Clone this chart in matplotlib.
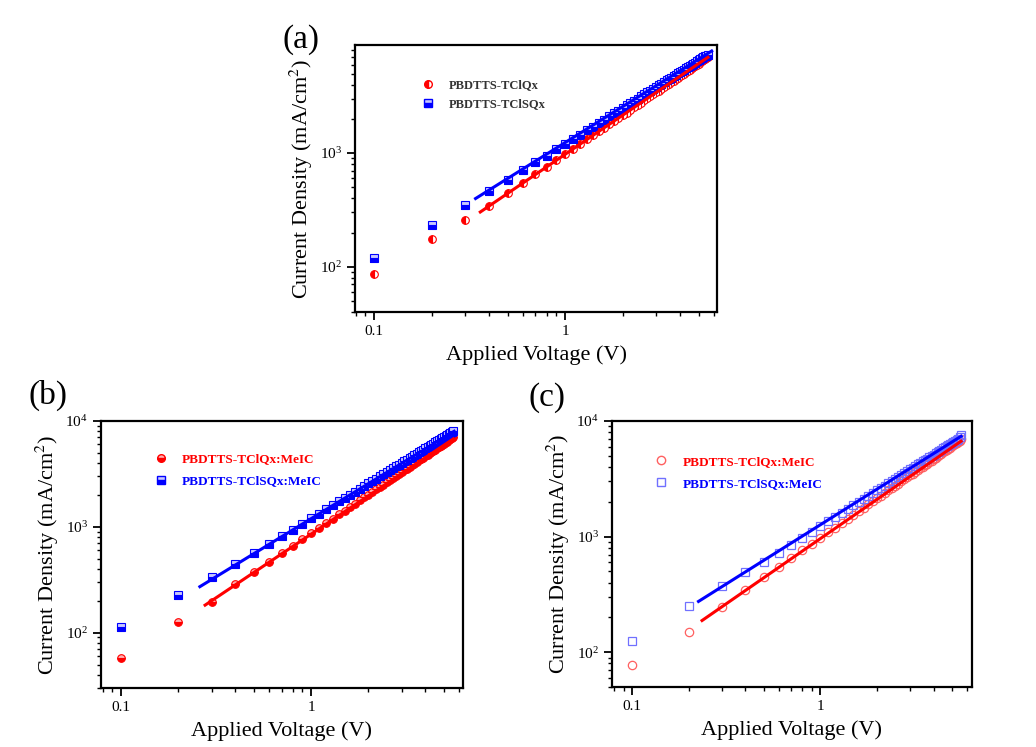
import numpy as np
import matplotlib
matplotlib.use('Agg')
import matplotlib.pyplot as plt
from matplotlib.lines import Line2D
from matplotlib.ticker import NullFormatter, LogLocator

plt.rcParams['font.family'] = ['Liberation Serif', 'DejaVu Serif']
plt.rcParams['mathtext.fontset'] = 'stix'

# applied voltage (V), same grid for every curve
volt = [0.1, 0.2, 0.3, 0.4, 0.5, 0.6, 0.7, 0.8, 0.9, 1.0,
        1.1, 1.2, 1.3, 1.4, 1.5, 1.6, 1.7, 1.8, 1.9, 2.0,
        2.1, 2.2, 2.3, 2.4, 2.5, 2.6, 2.7, 2.8, 2.9, 3.0,
        3.1, 3.2, 3.3, 3.4, 3.5, 3.6, 3.7, 3.8, 3.9, 4.0,
        4.1, 4.2, 4.3, 4.4, 4.5, 4.6, 4.7, 4.8, 4.9, 5.0,
        5.1, 5.2, 5.3, 5.4, 5.5, 5.6]

# (a) neat films, mA/cm2
a_red = [87, 175, 258, 343, 443, 545, 649, 755, 865, 975,
         1086, 1199, 1315, 1429, 1549, 1667, 1782, 1905, 2028, 2148,
         2270, 2393, 2523, 2642, 2773, 2897, 3020, 3155, 3281, 3412,
         3540, 3673, 3811, 3926, 4064, 4198, 4335, 4467, 4603, 4732,
         4875, 5000, 5140, 5272, 5408, 5559, 5689, 5821, 5970, 6109,
         6252, 6383, 6516, 6653, 6808, 6950]
a_blue = [119, 232, 350, 462, 581, 703, 826, 951, 1076, 1202,
          1327, 1455, 1585, 1710, 1841, 1968, 2099, 2228, 2360, 2489,
          2618, 2748, 2884, 3013, 3148, 3281, 3412, 3540, 3673, 3811,
          3945, 4074, 4217, 4345, 4477, 4613, 4742, 4887, 5023, 5152,
          5297, 5420, 5559, 5689, 5834, 5970, 6109, 6237, 6383, 6516,
          6653, 6792, 6918, 7063, 7194, 7328]
a_fit_x = {'red': [0.36, 5.6], 'blue': [0.34, 5.86]}
a_fit_y = {'red': [303, 6950], 'blue': [398, 7890]}

# (b) blends with MeIC
b_red = [57, 125, 193, 287, 377, 469, 565, 665, 766, 871,
         977, 1086, 1197, 1309, 1422, 1538, 1652, 1774, 1897, 2014,
         2138, 2259, 2388, 2512, 2642, 2767, 2897, 3027, 3155, 3289,
         3420, 3556, 3698, 3828, 3963, 4102, 4236, 4385, 4519, 4656,
         4808, 4943, 5082, 5224, 5370, 5521, 5662, 5808, 5957, 6109,
         6266, 6397, 6546, 6699, 6839, 6998]
b_blue = [112, 227, 334, 450, 561, 685, 811, 940, 1069, 1202,
          1334, 1469, 1603, 1742, 1879, 2014, 2153, 2296, 2438, 2576,
          2716, 2858, 3006, 3148, 3296, 3443, 3581, 3733, 3873, 4027,
          4169, 4325, 4477, 4613, 4764, 4920, 5070, 5224, 5370, 5521,
          5675, 5821, 5970, 6124, 6281, 6442, 6592, 6745, 6902, 7063,
          7228, 7379, 7516, 7674, 7834, 7998]
b_fit_x = {'red': [0.277, 5.61], 'blue': [0.26, 5.66]}
b_fit_y = {'red': [182, 6780], 'blue': [272, 8000]}

# (c) blends with MeIC, second set
c_red = [78, 151, 246, 347, 447, 548, 653, 759, 867, 977,
         1086, 1199, 1315, 1429, 1545, 1663, 1778, 1897, 2018, 2138,
         2259, 2377, 2506, 2624, 2754, 2877, 2999, 3126, 3251, 3381,
         3508, 3639, 3767, 3890, 4027, 4150, 4285, 4416, 4550, 4677,
         4819, 4943, 5070, 5212, 5346, 5483, 5610, 5754, 5888, 6026,
         6166, 6295, 6427, 6561, 6699, 6950]
c_blue = [124, 249, 371, 490, 603, 726, 851, 977, 1104, 1230,
          1355, 1483, 1611, 1738, 1866, 1995, 2123, 2254, 2382, 2512,
          2642, 2767, 2904, 3027, 3162, 3289, 3420, 3548, 3681, 3811,
          3945, 4074, 4217, 4335, 4467, 4603, 4732, 4864, 5000, 5129,
          5260, 5395, 5521, 5649, 5794, 5929, 6053, 6180, 6324, 6457,
          6592, 6714, 6855, 6982, 7300, 7500]
c_fit_x = {'red': [0.235, 5.6], 'blue': [0.225, 5.6]}
c_fit_y = {'red': [188, 6690], 'blue': [275, 7380]}

fig = plt.figure(figsize=(10.36, 7.47), dpi=100)
fig.patch.set_facecolor('white')

axA = fig.add_axes([0.3427, 0.5823, 0.3494, 0.3574])
axB = fig.add_axes([0.0975, 0.0790, 0.3494, 0.3574])
axC = fig.add_axes([0.5907, 0.0803, 0.3475, 0.3561])


def style_axis(ax, xlim, ylim):
    ax.set_xscale('log')
    ax.set_yscale('log')
    ax.set_xlim(*xlim)
    ax.set_ylim(*ylim)
    ax.set_xticks([0.1, 1])
    ax.set_xticklabels(['0.1', '1'])
    ax.xaxis.set_minor_locator(LogLocator(base=10, subs=np.arange(2, 10)))
    ax.xaxis.set_minor_formatter(NullFormatter())
    ax.yaxis.set_minor_locator(LogLocator(base=10, subs=np.arange(2, 10)))
    ax.yaxis.set_minor_formatter(NullFormatter())
    ax.tick_params(which='major', direction='out', length=6, width=1.3, labelsize=11,
                   top=False, right=False)
    ax.tick_params(which='minor', direction='out', length=3, width=1.0,
                   top=False, right=False)
    for s in ax.spines.values():
        s.set_linewidth(1.6)
    ax.set_xlabel('Applied Voltage (V)', fontsize=16, labelpad=5)
    ax.set_ylabel('Current Density (mA/cm$^2$)', fontsize=16, labelpad=3)


# ---- (a)
axA.plot(volt, a_red, 'o', ms=5.5, color='red', fillstyle='left', mfc='red',
         mfcalt='white', mew=0.8)
axA.plot(volt, a_blue, 's', ms=5.5, color='blue', fillstyle='bottom', mfc='blue',
         mfcalt='#c8c8ff', mew=0.8)
axA.plot(a_fit_x['red'], a_fit_y['red'], color='red', lw=2.2)
axA.plot(a_fit_x['blue'], a_fit_y['blue'], color='blue', lw=2.2)
style_axis(axA, (0.0795, 6.25), (40, 8900))
hA = [Line2D([], [], ls='none', marker='o', ms=5.5, color='red', fillstyle='left',
             mfc='red', mfcalt='white'),
      Line2D([], [], ls='none', marker='s', ms=5.5, color='blue', fillstyle='bottom',
             mfc='blue', mfcalt='#c8c8ff')]
axA.legend(hA, ['PBDTTS-TClQx', 'PBDTTS-TClSQx'], loc='upper left',
           bbox_to_anchor=(0.167, 0.895), frameon=False, handlelength=1,
           handletextpad=1.2, borderpad=0, labelspacing=0.55,
           prop={'size': 9, 'weight': 'bold'}, labelcolor='#333333')
fig.text(283 / 1036, 1 - 40 / 747, '(a)', fontsize=24, va='center', ha='left')

# ---- (b)
axB.plot(volt, b_red, 'o', ms=5.5, color='red', fillstyle='bottom', mfc='red',
         mfcalt='#ffb0b0', mew=0.8)
axB.plot(volt, b_blue, 's', ms=5.5, color='blue', fillstyle='bottom', mfc='blue',
         mfcalt='#c8c8ff', mew=0.8)
axB.plot(b_fit_x['red'], b_fit_y['red'], color='red', lw=2.2)
axB.plot(b_fit_x['blue'], b_fit_y['blue'], color='blue', lw=2.2)
style_axis(axB, (0.0785, 6.3), (30, 1e4))
hB = [Line2D([], [], ls='none', marker='o', ms=5.5, color='red', fillstyle='bottom',
             mfc='red', mfcalt='#ffb0b0'),
      Line2D([], [], ls='none', marker='s', ms=5.5, color='blue', fillstyle='bottom',
             mfc='blue', mfcalt='#c8c8ff')]
axB.legend(hB, ['PBDTTS-TClQx:MeIC', 'PBDTTS-TClSQx:MeIC'], loc='upper left',
           bbox_to_anchor=(0.128, 0.905), frameon=False, handlelength=1,
           handletextpad=1.1, borderpad=0, labelspacing=0.75,
           prop={'size': 9.5, 'weight': 'bold'}, labelcolor=['red', 'blue'])
fig.text(28 / 1036, 1 - 395 / 747, '(b)', fontsize=24, va='center', ha='left')

# ---- (c)
axC.plot(volt, c_red, 'o', ms=6, color='#ff6060', mfc='none', mew=0.9)
axC.plot(volt, c_blue, 's', ms=5.5, color='#7070ff', mfc='none', mew=0.9)
axC.plot(c_fit_x['red'], c_fit_y['red'], color='red', lw=2.2)
axC.plot(c_fit_x['blue'], c_fit_y['blue'], color='blue', lw=2.2)
style_axis(axC, (0.078, 6.4), (50, 1e4))
hC = [Line2D([], [], ls='none', marker='o', ms=6, color='#ff6060', mfc='none'),
      Line2D([], [], ls='none', marker='s', ms=5.5, color='#7070ff', mfc='none')]
axC.legend(hC, ['PBDTTS-TClQx:MeIC', 'PBDTTS-TClSQx:MeIC'], loc='upper left',
           bbox_to_anchor=(0.100, 0.895), frameon=False, handlelength=1,
           handletextpad=1.1, borderpad=0, labelspacing=0.75,
           prop={'size': 9.5, 'weight': 'bold'}, labelcolor=['red', 'blue'])
fig.text(528 / 1036, 1 - 398 / 747, '(c)', fontsize=24, va='center', ha='left')

fig.savefig('out.png', dpi=100, facecolor='white')
